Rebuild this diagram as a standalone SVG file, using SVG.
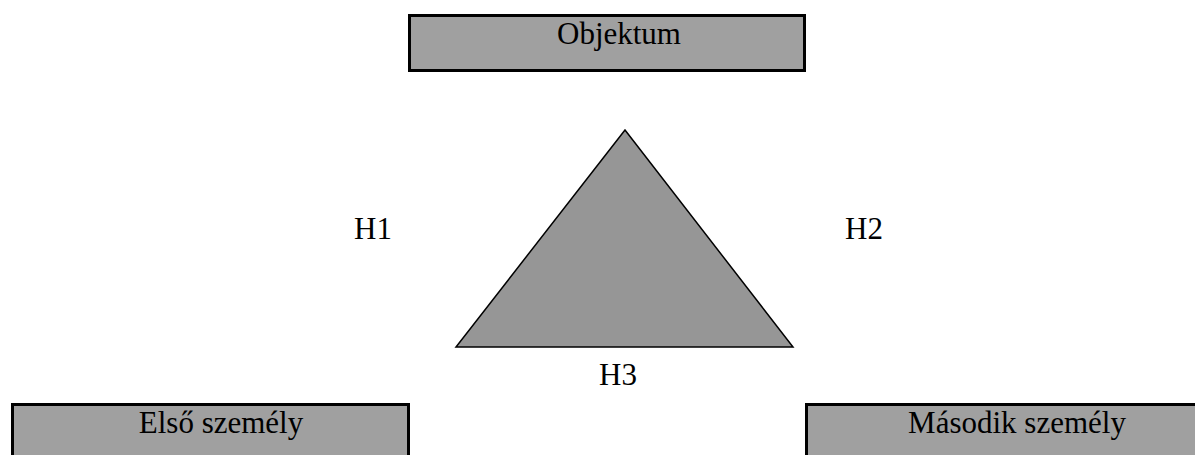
<svg xmlns="http://www.w3.org/2000/svg" width="1195" height="455" viewBox="0 0 1195 455">
<style>
.box{fill:#a0a0a0;stroke:#000;stroke-width:3}
.tri{fill:#969696;stroke:#000;stroke-width:1.5;stroke-linejoin:miter}
text{font-family:"Liberation Serif","Times New Roman",serif;font-size:31px;fill:#000}
.c{text-anchor:middle}
</style>
<rect width="1195" height="455" fill="#fff"/>
<g id="objektum">
<rect class="box" x="409.5" y="15.5" width="395" height="55"/>
<text class="c" x="619" y="44">Objektum</text>
</g>
<g id="triangle">
<polygon class="tri" points="625,130 456,347 793,347"/>
</g>
<g id="labels">
<text class="c" x="373" y="239">H1</text>
<text class="c" x="864" y="239">H2</text>
<text class="c" x="618" y="385">H3</text>
</g>
<g id="elso">
<rect class="box" x="12.5" y="404.5" width="396" height="60"/>
<text class="c" x="221" y="433">Első személy</text>
</g>
<g id="masodik">
<rect class="box" x="806.5" y="404.5" width="400" height="60"/>
<text class="c" x="1017" y="433">Második személy</text>
</g>
<g id="connectors"></g>
</svg>
